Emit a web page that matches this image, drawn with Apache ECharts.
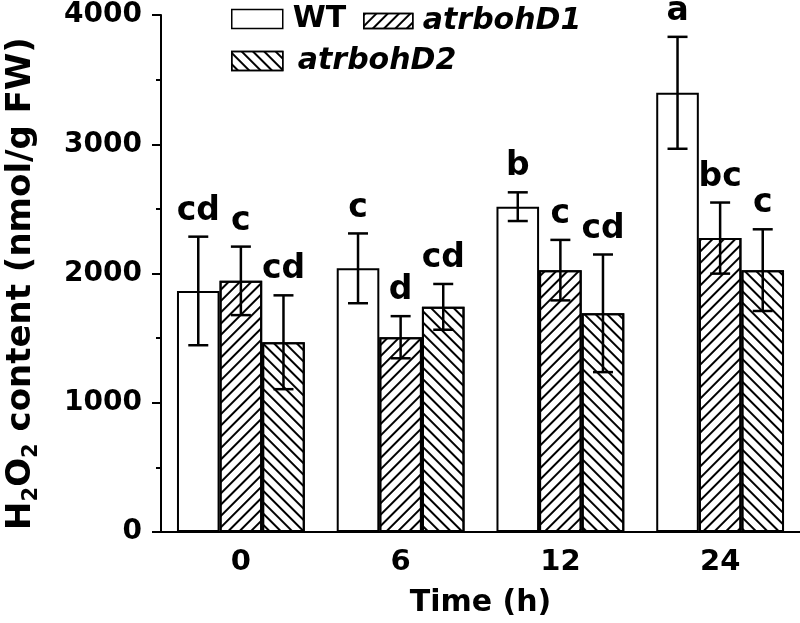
<!DOCTYPE html>
<html>
<head>
<meta charset="utf-8">
<script src="https://cdn.jsdelivr.net/npm/echarts@6/dist/echarts.min.js"></script>
<style>
html,body{margin:0;padding:0;background:#fff;}
#chart{width:800px;height:623px;}
</style>
</head>
<body>
<div id="chart"></div>
<script>
const categories = ['0', '6', '12', '24'];
const seriesNames = ['WT', 'atrbohD1', 'atrbohD2'];

const wtValues  = [1865, 2040, 2517, 3398];
const wtErrors  = [420, 270, 111, 433];
const wtLetters = ['cd', 'c', 'b', 'a'];

const d1Values  = [1943, 1507, 2026, 2274];
const d1Errors  = [265, 163, 234, 275];
const d1Letters = ['c', 'd', 'c', 'bc'];

const d2Values  = [1468, 1742, 1692, 2026];
const d2Errors  = [363, 177, 455, 316];
const d2Letters = ['cd', 'cd', 'cd', 'c'];

const yMin = 0, yMax = 4000, yInterval = 1000;

const FONT = '"DejaVu Sans", "Liberation Sans", Arial, sans-serif';
const groups = [
  { values: wtValues, errors: wtErrors, letters: wtLetters },
  { values: d1Values, errors: d1Errors, letters: d1Letters },
  { values: d2Values, errors: d2Errors, letters: d2Letters }
];

const decalD1 = { symbol: 'rect', symbolSize: 1, color: '#000', dashArrayX: [1, 0], dashArrayY: [1.3, 6], rotation: -Math.PI / 4 };
const decalD2 = { symbol: 'rect', symbolSize: 1, color: '#000', dashArrayX: [1, 0], dashArrayY: [1.3, 6], rotation: Math.PI / 4 };
const decals = [null, decalD1, decalD2];

function makeErrRender(k, letters) {
  return function (params, api) {
    const i = api.value(0), v = api.value(1), e = api.value(2);
    const c = api.coord([i, v]);
    const bw = api.size([1, 0])[0] * 0.8 / 3;
    const x = c[0] + (k - 1) * bw;
    const top = api.coord([i, v + e])[1];
    const bot = api.coord([i, v - e])[1];
    const cap = 10;
    const ls = { stroke: '#000', lineWidth: 2.5 };
    return {
      type: 'group',
      children: [
        { type: 'line', shape: { x1: x, y1: top, x2: x, y2: bot }, style: ls },
        { type: 'line', shape: { x1: x - cap, y1: top, x2: x + cap, y2: top }, style: ls },
        { type: 'line', shape: { x1: x - cap, y1: bot, x2: x + cap, y2: bot }, style: ls },
        { type: 'text', style: { text: letters[params.dataIndex], x: x, y: top - 9, align: 'center', verticalAlign: 'bottom', font: 'bold 33px ' + FONT, fill: '#000' } }
      ]
    };
  };
}

const series = [];
groups.forEach((g, k) => {
  const itemStyle = { color: '#fff', borderColor: '#000', borderWidth: 2 };
  if (decals[k]) itemStyle.decal = decals[k];
  series.push({
    name: seriesNames[k], type: 'bar', data: g.values,
    barGap: '0%', barCategoryGap: '20%',
    itemStyle: itemStyle, emphasis: { disabled: true }, z: 2
  });
});
groups.forEach((g, k) => {
  series.push({
    type: 'custom', z: 5, silent: true,
    data: g.values.map((v, i) => [i, v, g.errors[i]]),
    renderItem: makeErrRender(k, g.letters)
  });
});

const legendBase = {
  orient: 'horizontal', padding: 0, selectedMode: false,
  icon: 'rect',
  itemStyle: { borderColor: '#000', borderWidth: 1.5 },
  textStyle: { fontFamily: FONT, fontWeight: 'bold', fontSize: 30, color: '#000', padding: [0, 0, 0, 5] }
};

const option = {
  animation: false,
  backgroundColor: '#fff',
  grid: { left: 161, right: 0, top: 15, bottom: 91, containLabel: false, outerBoundsMode: 'none' },
  legend: [
    Object.assign({}, legendBase, { data: ['WT'], left: 231, top: 4, itemWidth: 51, itemHeight: 19 }),
    Object.assign({}, legendBase, { data: [{ name: 'atrbohD1', textStyle: { fontStyle: 'italic' } }], left: 363, top: 6, itemWidth: 49, itemHeight: 15 }),
    Object.assign({}, legendBase, {
      data: [{ name: 'atrbohD2', textStyle: { fontStyle: 'italic' } }], left: 231, top: 46, itemWidth: 51, itemHeight: 19,
      textStyle: { fontFamily: FONT, fontWeight: 'bold', fontSize: 30, color: '#000', padding: [0, 0, 0, 10] }
    })
  ],
  xAxis: {
    type: 'category', data: categories,
    axisLine: { lineStyle: { color: '#000', width: 2 } },
    axisTick: { show: false },
    axisLabel: { color: '#000', fontFamily: FONT, fontWeight: 'bold', fontSize: 29, margin: 16 },
    name: 'Time (h)', nameLocation: 'middle', nameGap: 56,
    nameTextStyle: { color: '#000', fontFamily: FONT, fontWeight: 'bold', fontSize: 30 }
  },
  yAxis: {
    type: 'value', min: yMin, max: yMax, interval: yInterval,
    splitLine: { show: false },
    axisLine: { show: true, lineStyle: { color: '#000', width: 2 } },
    axisTick: { show: true, inside: false, length: 9, lineStyle: { color: '#000', width: 2 } },
    minorTick: { show: true, splitNumber: 2, length: 5, lineStyle: { color: '#000', width: 2 } },
    axisLabel: { color: '#000', fontFamily: FONT, fontWeight: 'bold', fontSize: 28, margin: 19, formatter: function (v) { return String(v); } },
    name: '{b|H}{s|2}{b|O}{s|2}{b| content (nmol/g FW)}',
    nameLocation: 'middle', nameGap: 119,
    nameTextStyle: {
      padding: [0, 20, 0, 0],
      rich: {
        b: { fontFamily: FONT, fontWeight: 'bold', fontSize: 34, color: '#000', lineHeight: 42, verticalAlign: 'middle' },
        s: { fontFamily: FONT, fontWeight: 'bold', fontSize: 21, color: '#000', lineHeight: 21, verticalAlign: 'bottom' }
      }
    }
  },
  series: series
};

const chart = echarts.init(document.getElementById('chart'), null, { renderer: 'canvas' });
chart.setOption(option);
</script>
</body>
</html>
